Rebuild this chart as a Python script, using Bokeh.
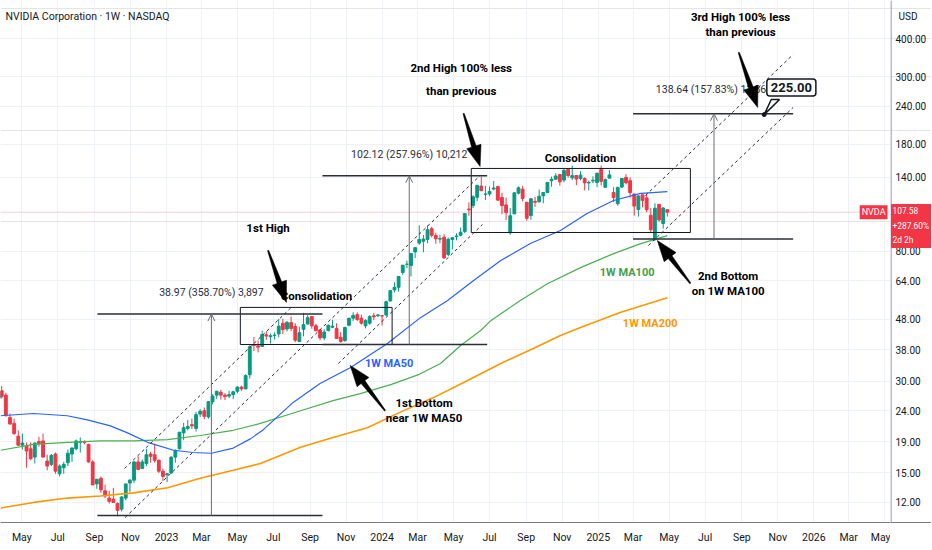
import numpy as np
import pandas as pd
from bokeh.plotting import figure
from bokeh.layouts import row
from bokeh.models import (Range1d, FixedTicker, Label, Arrow, OpenHead, ColumnDataSource, Grid)
from bokeh.embed import file_html
from bokeh.resources import INLINE
from bokeh.core.properties import value

FONT = "Roboto"

# ---------------- data ----------------
WEEK_START = "2022-03-21"
OPEN = [26.4, 27.9, 27.0, 22.8, 21.8, 19.8, 18.5, 18.4, 18.0, 16.9, 19.0, 19.1, 16.4, 16.0, 17.3, 14.9, 15.6, 16.2, 17.3, 18.0,
        18.9, 19.0, 18.6, 16.3, 13.8, 14.4, 13.1, 12.4, 12.3, 11.9, 11.4, 12.4, 13.9, 14.2, 16.3, 15.5, 16.1, 17.3, 17.2, 16.5,
        15.2, 14.8, 15.0, 16.9, 18.0, 20.3, 21.0, 21.6, 21.0, 23.4, 24.0, 22.9, 25.7, 27.0, 27.6, 27.0, 26.8, 27.1, 27.8, 28.7,
        28.3, 31.5, 39.5, 39.2, 39.0, 42.6, 42.0, 42.4, 42.9, 46.5, 44.5, 46.7, 45.4, 40.5, 44.4, 46.2, 48.9, 45.6, 44.2, 41.6,
        44.0, 45.1, 44.7, 41.8, 40.8, 45.8, 48.3, 49.6, 48.3, 45.6, 46.5, 49.2, 49.2, 49.2, 49.5, 55.0, 59.8, 61.0, 68.2, 72.6,
        71.9, 79.7, 85.2, 86.4, 87.6, 95.0, 90.3, 87.8, 89.1, 78.2, 87.6, 89.5, 90.4, 93.0, 110.2, 113.1, 120.4, 131.1, 123.2, 123.5,
        128.3, 130.6, 120.3, 113.7, 92.1, 106.3, 124.3, 128.1, 116.0, 104.9, 116.8, 116.5, 121.8, 124.9, 136.5, 138.1, 143.0, 137.2, 148.7, 139.5,
        142.0, 138.8, 138.9, 134.2, 136.3, 134.8, 148.6, 129.9, 139.2, 124.8, 114.8, 130.1, 140.0, 136.6, 123.5, 109.9, 122.7, 119.9, 105.1, 87.5,
        114.1, 98.8, 109.7]
HIGH = [28.1, 28.9, 27.5, 23.5, 22.6, 20.7, 20.2, 18.9, 18.9, 18.9, 19.7, 20.2, 17.2, 17.3, 17.5, 16.0, 16.3, 17.9, 18.2, 19.3,
        19.6, 19.2, 18.7, 16.5, 14.3, 14.6, 13.7, 13.1, 13.4, 12.0, 12.6, 13.8, 14.3, 16.4, 17.0, 16.6, 18.0, 17.6, 18.7, 16.6,
        15.5, 15.0, 17.0, 17.9, 20.4, 21.9, 22.4, 22.6, 23.8, 24.3, 24.6, 25.8, 27.2, 27.9, 28.1, 27.4, 27.9, 27.9, 28.9, 29.0,
        31.6, 39.5, 41.9, 40.8, 43.9, 43.8, 43.0, 43.4, 48.0, 48.1, 47.3, 48.9, 46.5, 45.3, 50.3, 49.4, 49.0, 46.3, 44.3, 44.4,
        46.0, 47.7, 46.5, 43.5, 45.3, 48.4, 50.5, 50.5, 49.6, 47.9, 49.4, 50.3, 49.9, 49.5, 55.1, 59.5, 63.4, 66.4, 72.1, 74.6,
        79.0, 82.3, 97.4, 90.6, 97.4, 96.3, 92.2, 90.7, 91.1, 88.8, 89.2, 91.7, 95.9, 106.6, 115.9, 122.3, 132.0, 140.8, 131.4, 130.7,
        136.2, 131.4, 124.7, 120.2, 111.0, 125.0, 130.8, 131.3, 116.2, 119.6, 120.8, 127.7, 125.0, 135.0, 140.9, 144.4, 143.1, 149.7, 149.8, 152.9,
        142.1, 146.5, 140.0, 136.7, 141.1, 144.9, 153.1, 138.8, 148.0, 130.0, 130.4, 139.3, 143.4, 140.0, 123.7, 122.2, 122.9, 124.1, 111.0, 115.1,
        114.7, 111.9, 110.2]
LOW = [25.6, 26.3, 23.0, 21.6, 20.0, 18.4, 17.9, 15.6, 16.5, 16.1, 18.3, 16.9, 15.3, 15.8, 14.9, 14.6, 14.9, 15.8, 16.3, 17.8,
       17.5, 18.6, 16.2, 13.7, 13.3, 12.9, 12.4, 11.9, 12.0, 10.8, 11.2, 12.2, 13.0, 13.9, 15.3, 15.5, 15.8, 16.2, 16.2, 15.0,
       14.1, 14.0, 14.9, 16.2, 17.9, 19.2, 20.7, 20.9, 20.5, 22.9, 22.5, 22.6, 25.2, 26.2, 26.1, 26.0, 26.4, 26.2, 27.4, 27.9,
       28.3, 30.6, 37.7, 37.3, 38.9, 41.0, 39.9, 41.1, 41.8, 42.8, 43.7, 43.8, 40.3, 40.3, 42.1, 46.2, 44.6, 43.9, 40.9, 40.9,
       43.7, 44.8, 41.4, 40.1, 40.4, 45.4, 47.3, 47.3, 46.0, 44.7, 46.0, 47.6, 48.7, 45.7, 49.1, 54.9, 58.7, 59.0, 67.0, 70.5,
       66.2, 76.1, 84.1, 79.5, 85.1, 89.0, 84.8, 85.1, 75.6, 77.3, 81.2, 87.0, 89.6, 91.8, 104.8, 111.1, 117.0, 126.1, 118.0, 121.4,
       127.0, 117.0, 106.0, 101.4, 90.7, 106.0, 123.1, 116.7, 100.9, 101.6, 112.0, 115.6, 115.1, 124.9, 130.4, 137.5, 131.5, 134.9, 139.8, 137.2,
       132.1, 137.0, 126.9, 126.9, 134.0, 130.1, 131.8, 129.5, 139.0, 116.3, 113.0, 129.2, 132.8, 120.1, 104.8, 104.1, 111.6, 107.6, 92.1, 86.6,
       100.1, 95.0, 104.1]
CLOSE = [27.7, 26.7, 23.1, 21.7, 20.2, 18.5, 18.8, 17.7, 16.7, 18.8, 18.7, 16.9, 15.8, 17.1, 15.2, 15.8, 16.0, 17.4, 18.1, 19.1,
         19.0, 18.9, 16.3, 13.7, 14.3, 13.2, 12.6, 12.1, 12.0, 11.3, 12.5, 13.8, 14.2, 16.3, 15.4, 16.3, 17.2, 17.0, 16.5, 15.2,
         14.6, 14.9, 16.9, 17.8, 20.4, 21.1, 21.3, 21.4, 23.3, 23.9, 23.0, 25.7, 26.8, 27.8, 27.0, 26.7, 27.1, 27.7, 28.7, 28.3,
         31.3, 38.9, 39.3, 38.8, 42.7, 42.2, 42.3, 42.5, 45.5, 44.3, 46.8, 44.7, 40.9, 43.3, 46.0, 48.5, 45.6, 43.9, 41.6, 43.5,
         45.8, 45.5, 41.4, 40.5, 45.0, 48.3, 49.3, 47.8, 46.5, 47.5, 48.9, 48.8, 49.5, 49.1, 54.7, 59.5, 61.0, 66.2, 72.1, 72.6,
         78.8, 82.3, 87.5, 87.8, 94.3, 90.4, 88.0, 88.2, 76.2, 87.7, 88.8, 89.9, 92.5, 106.5, 109.6, 120.9, 131.9, 126.6, 123.5, 125.8,
         129.2, 117.9, 113.1, 107.3, 104.8, 124.6, 129.4, 119.4, 102.8, 119.1, 116.0, 121.4, 124.9, 134.8, 138.0, 141.5, 135.4, 147.6, 141.98, 141.95,
         138.25, 142.4, 134.3, 134.7, 137.0, 144.5, 135.9, 137.7, 142.6, 120.1, 129.8, 138.85, 134.4, 124.9, 112.7, 121.7, 117.7, 109.7, 94.3, 110.9,
         101.5, 111.0, 107.58]

MA50_DATES = ["2022-03-26", "2022-05-21", "2022-07-17", "2022-08-20", "2022-09-28", "2022-10-27", "2022-11-30", "2023-01-13",
              "2023-02-15", "2023-03-18", "2023-04-24", "2023-05-23", "2023-06-14", "2023-08-04", "2023-09-18", "2023-11-08",
              "2024-01-10", "2024-03-06", "2024-04-21", "2024-06-04", "2024-07-20", "2024-09-08", "2024-10-29", "2024-12-13",
              "2025-01-27", "2025-03-14", "2025-04-28"]
MA50 = [23.1, 23.5, 23.1, 22.4, 21.4, 20.3, 18.9, 17.8, 17.5, 17.4, 18.1, 19.4, 20.8, 25.6, 29.5, 33.2,
        39.9, 48.5, 55.2, 64.2, 74.7, 84.9, 93.7, 106.6, 117.6, 124.0, 125.8]
MA100_DATES = ["2022-03-26", "2022-05-21", "2022-07-17", "2022-09-11", "2022-11-06", "2023-01-03", "2023-02-27", "2023-04-24",
               "2023-06-09", "2023-08-16", "2023-10-10", "2023-11-25", "2024-01-17", "2024-03-04", "2024-04-09", "2024-05-13",
               "2024-06-16", "2024-07-03", "2024-08-22", "2024-10-07", "2024-12-02", "2025-01-27", "2025-03-14", "2025-04-28"]
MA100 = [17.8, 18.6, 18.9, 19.1, 19.1, 19.3, 19.9, 20.7, 21.8, 24.0, 25.9, 27.3, 29.3, 31.6, 34.3, 39.3,
         44.0, 47.4, 55.2, 62.7, 70.8, 78.7, 84.9, 90.2]
MA200_DATES = ["2022-03-26", "2022-05-21", "2022-07-17", "2022-09-11", "2022-11-06", "2023-01-03", "2023-02-27", "2023-04-24",
               "2023-06-09", "2023-08-16", "2023-10-10", "2023-12-07", "2024-01-31", "2024-03-28", "2024-05-24", "2024-07-20",
               "2024-09-13", "2024-10-29", "2024-12-02", "2025-02-07", "2025-04-28"]
MA200 = [11.5, 12.0, 12.4, 12.6, 12.9, 13.4, 14.4, 15.3, 16.1, 18.2, 19.6, 21.1, 23.7, 26.5, 30.1, 34.3,
         38.4, 42.4, 45.0, 50.4, 56.4]

X_TICK_DATES = ["2022-05-01", "2022-07-01", "2022-09-01", "2022-11-01", "2023-01-01", "2023-03-01", "2023-05-01",
                "2023-07-01", "2023-09-01", "2023-11-01", "2024-01-01", "2024-03-01", "2024-05-01", "2024-07-01",
                "2024-09-01", "2024-11-01", "2025-01-01", "2025-03-01", "2025-05-01", "2025-07-01", "2025-09-01",
                "2025-11-01", "2026-01-01", "2026-03-01", "2026-05-01"]
X_TICK_LABELS = ["May", "Jul", "Sep", "Nov", "2023", "Mar", "May", "Jul", "Sep", "Nov", "2024", "Mar", "May", "Jul",
                 "Sep", "Nov", "2025", "Mar", "May", "Jul", "Sep", "Nov", "2026", "Mar", "May"]
Y_TICKS = [12, 15, 19, 24, 30, 38, 48, 64, 80, 140, 180, 240, 300, 400]
Y_TICK_LABELS = ["12.00", "15.00", "19.00", "24.00", "30.00", "38.00", "48.00", "64.00", "80.00",
                 "140.00", "180.00", "240.00", "300.00", "400.00"]

LAST_PRICE = 107.58
LAST_LINES = ["107.58", "+287.60%", "2d 2h"]
LAST_LINES_Y = [109.0, 97.3, 87.5]
LAST_BOX = (82.4, 114.1)
CURRENCY = "USD"
CURRENCY_Y = 472.5

# price-range measurements
MEAS_LOW = [10.864, 39.59, 87.84]
MEAS_HIGH = [49.834, 141.71, 226.48]
MEAS_LEFT = ["2022-09-06", "2023-09-22", "2025-03-01"]
MEAS_RIGHT = ["2023-09-22", "2024-06-27", "2025-11-27"]
MEAS_MID = ["2023-03-18", "2024-02-16", "2025-07-16"]
MEAS_TEXT = ["38.97 (358.70%) 3,897", "102.12 (257.96%) 10,212", "138.64 (157.83%) 13,864"]
MEAS_TEXT_Y = [58.7, 166.4, 272.2]

# consolidation boxes
BOX_LEFT = ["2023-05-06", "2024-05-31"]
BOX_RIGHT = ["2024-01-18", "2025-06-06"]
BOX_BOTTOM = [39.59, 92.3]
BOX_TOP = [52.4, 149.8]

# dashed channel lines
CH_X0 = ["2022-10-22", "2022-10-23", "2023-10-19", "2025-03-22", "2025-03-27"]
CH_Y0 = [15.51, 10.71, 34.3, 122.1, 83.7]
CH_X1 = ["2023-08-02", "2024-06-15", "2024-06-19", "2025-11-27", "2025-11-27"]
CH_Y1 = [52.8, 142.0, 98.1, 354.4, 237.5]

# thick arrows: tail -> tip
AR_TAIL_X = ["2023-06-22", "2024-05-18", "2025-08-27", "2025-06-06", "2024-01-06"]
AR_TAIL_Y = [80.6, 226.9, 359.8, 62.8, 24.0]
AR_TIP_X = ["2023-07-23", "2024-06-15", "2025-09-28", "2025-04-11", "2023-11-08"]
AR_TIP_Y = [54.4, 152.0, 237.5, 86.9, 33.8]

NOTE_TEXT = ["1st High", "Consolidation", "Consolidation", "2nd High 100% less", "than previous",
             "3rd High 100% less", "than previous", "2nd Bottom", "on 1W MA100", "1st Bottom", "near 1W MA50"]
NOTE_X = ["2023-06-22", "2023-09-12", "2024-12-02", "2024-05-14", "2024-05-14",
          "2025-08-30", "2025-08-30", "2025-08-09", "2025-08-09", "2024-03-12", "2024-03-12"]
NOTE_Y = [95.2, 57.3, 162.7, 318.9, 268.1, 468.9, 418.6, 66.2, 59.5, 25.35, 22.8]

MA_LABEL_TEXT = ["1W MA50", "1W MA100", "1W MA200"]
MA_LABEL_X = ["2024-01-13", "2025-02-19", "2025-03-30"]
MA_LABEL_Y = [34.3, 68.2, 46.4]

TARGET = 225.00
TARGET_DATE = "2025-10-09"
TARGET_LABEL_X = "2025-11-24"
TARGET_LABEL_Y = 276.3
TARGET_PTR_X = ["2025-10-21", "2025-11-04"]
TARGET_PTR_Y = 252.3

TITLE = "NVIDIA Corporation · 1W · NASDAQ"

# ---------------- helpers ----------------
def ms(s):
    return int(pd.Timestamp(s).value // 10**6)

X0, X1 = ms("2022-03-25 22:00"), ms("2026-05-10 21:00")
Y0, Y1 = 10.31, 533.1
FW, FH = 890, 522
BOTTOM = 27
AXW = 41
TXT = "#131722"
AXC = "#787b86"

def to_px(xm, yv):
    return ((xm - X0) / (X1 - X0) * FW,
            (np.log(yv) - np.log(Y0)) / (np.log(Y1) - np.log(Y0)) * FH)

def from_px(px, py):
    return (X0 + px / FW * (X1 - X0),
            float(np.exp(np.log(Y0) + py / FH * (np.log(Y1) - np.log(Y0)))))

def arrow_poly(tail, tip, hl=21.0, hw=7.5, sw=2.4, tw=0.6):
    tx, ty = to_px(*tail)
    px_, py_ = to_px(*tip)
    dx, dy = px_ - tx, py_ - ty
    L = np.hypot(dx, dy)
    ux, uy = dx / L, dy / L
    nx, ny = -uy, ux
    bx, by = px_ - ux * hl, py_ - uy * hl
    pts = [(tx + nx * tw, ty + ny * tw), (bx + nx * sw, by + ny * sw), (bx + nx * hw, by + ny * hw),
           (px_, py_), (bx - nx * hw, by - ny * hw), (bx - nx * sw, by - ny * sw), (tx - nx * tw, ty - ny * tw)]
    conv = [from_px(a, b) for a, b in pts]
    return [c[0] for c in conv], [c[1] for c in conv]

# ---------------- main figure ----------------
yr = Range1d(Y0, Y1)
p = figure(width=FW, height=FH + BOTTOM, x_axis_type="datetime", y_axis_type="log", y_axis_location=None,
           x_range=Range1d(X0, X1), y_range=yr, output_backend="svg", toolbar_location=None,
           min_border_left=0, min_border_top=0, min_border_right=0, min_border_bottom=BOTTOM)
p.outline_line_color = None
p.background_fill_color = "white"

xt = [ms(d) for d in X_TICK_DATES]
p.xaxis.ticker = FixedTicker(ticks=xt)
p.xgrid.ticker = FixedTicker(ticks=xt)
p.xaxis.major_label_overrides = {t: lab for t, lab in zip(xt, X_TICK_LABELS)}
p.xaxis.axis_line_color = AXC
p.xaxis.major_tick_line_color = None
p.xaxis.major_tick_out = 0
p.xaxis.major_tick_in = 0
p.xaxis.minor_tick_line_color = None
p.xaxis.major_label_text_font = FONT
p.xaxis.major_label_text_font_size = "10.5px"
p.xaxis.major_label_text_color = TXT
p.xaxis.major_label_standoff = 8
p.xgrid.grid_line_color = "#eef1f6"
p.add_layout(Grid(dimension=1, ticker=FixedTicker(ticks=Y_TICKS), grid_line_color="#eef1f6"))

# last price line
p.line([X0, X1], [LAST_PRICE, LAST_PRICE], line_color="#f23645", line_alpha=0.45, line_width=1, line_dash="1 1")

# candles
dates = pd.date_range(WEEK_START, periods=len(CLOSE), freq="W-MON")
o, h, l, c = map(np.array, (OPEN, HIGH, LOW, CLOSE))
col = np.where(c >= o, "#089981", "#f23645")
src = ColumnDataSource(dict(x=dates, o=o, h=h, l=l, c=c, top=np.maximum(o, c), bot=np.minimum(o, c), col=col))
p.segment("x", "h", "x", "l", source=src, line_color="col", line_width=1)
p.vbar(x="x", width=0.68 * 7 * 86400000, top="top", bottom="bot", source=src, fill_color="col", line_color="col")

# moving averages
p.line(pd.to_datetime(MA200_DATES), MA200, line_color="#ff9800", line_width=1.6)
p.line(pd.to_datetime(MA100_DATES), MA100, line_color="#4caf50", line_width=1.2)
p.line(pd.to_datetime(MA50_DATES), MA50, line_color="#2962ff", line_width=1.2)

# consolidation boxes
p.quad(left=pd.to_datetime(BOX_LEFT), right=pd.to_datetime(BOX_RIGHT), bottom=BOX_BOTTOM, top=BOX_TOP,
       fill_color=None, line_color=TXT, line_width=1)

# measurement tools
for lo, hi, a, b, m, t, ty in zip(MEAS_LOW, MEAS_HIGH, MEAS_LEFT, MEAS_RIGHT, MEAS_MID, MEAS_TEXT, MEAS_TEXT_Y):
    xa, xb, xm = pd.Timestamp(a), pd.Timestamp(b), pd.Timestamp(m)
    p.line([xa, xb], [lo, lo], line_color="#2a2e39", line_width=1.5)
    p.line([xa, xb], [hi, hi], line_color="#2a2e39", line_width=1.5)
    p.add_layout(Arrow(end=OpenHead(size=7, line_color="#6a6d78", line_width=1),
                       x_start=ms(m), y_start=lo, x_end=ms(m), y_end=hi,
                       line_color="#6a6d78", line_width=1))
    p.text(x=[xm], y=[ty], text=[t], text_font=value(FONT), text_font_size="10.5px",
           text_align="center", text_baseline="middle", text_color="#2a2e39")

# dashed channels
p.segment(pd.to_datetime(CH_X0), CH_Y0, pd.to_datetime(CH_X1), CH_Y1,
          line_color="#2a2e39", line_width=1, line_dash="3 3")

# notes
p.text(x=pd.to_datetime(NOTE_X), y=NOTE_Y, text=NOTE_TEXT, text_font=value(FONT), text_font_size="11.5px",
       text_align="center", text_baseline="middle", text_color="#000000", text_font_style="bold")
ma_cols = ["#2962ff", "#43a047", "#ff9800"]
p.text(x=pd.to_datetime(MA_LABEL_X), y=MA_LABEL_Y, text=MA_LABEL_TEXT, text_font=value(FONT),
       text_font_size="11px", text_align="center", text_baseline="middle", text_color=ma_cols,
       text_font_style="bold")

# thick arrows
axs, ays = [], []
for tx, ty, px_, py_ in zip(AR_TAIL_X, AR_TAIL_Y, AR_TIP_X, AR_TIP_Y):
    xs, ys = arrow_poly((ms(tx), ty), (ms(px_), py_))
    axs.append(xs)
    ays.append(ys)
p.patches(axs, ays, fill_color="#000000", line_color="#000000", line_width=0.5)

# target callout
p.patch([ms(TARGET_PTR_X[0]), ms(TARGET_PTR_X[1]), ms(TARGET_DATE)], [TARGET_PTR_Y, TARGET_PTR_Y, TARGET],
        fill_color="white", line_color=TXT, line_width=1.5)
p.scatter([pd.Timestamp(TARGET_DATE)], [TARGET], size=4, color=TXT)
p.add_layout(Label(x=ms(TARGET_LABEL_X), y=TARGET_LABEL_Y, text=f"{TARGET:.2f}", text_font=FONT,
                   text_font_size="13px", text_font_style="bold", text_align="center", text_baseline="middle",
                   text_color=TXT, background_fill_color="white", border_line_color=TXT,
                   border_line_width=1.5, padding=4, border_radius=3))

# header
p.add_layout(Label(x=5, y=FH - 16, x_units="screen", y_units="screen", text=TITLE,
                   text_font=FONT, text_font_size="10.5px", text_baseline="middle", text_color=TXT))

# NVDA tag
p.add_layout(Label(x=FW - 3, y=LAST_PRICE, x_units="screen", text="NVDA", text_font=FONT, text_font_size="9px",
                   text_align="right", text_baseline="middle", text_color="white",
                   background_fill_color="#f23645", padding=2))

# ---------------- price scale panel ----------------
q = figure(width=AXW, height=FH + BOTTOM, y_axis_type="log", y_axis_location=None,
           x_range=Range1d(0, AXW), y_range=yr, output_backend="svg", toolbar_location=None,
           min_border_left=0, min_border_top=0, min_border_right=0, min_border_bottom=BOTTOM)
q.outline_line_color = None
q.xgrid.visible = False
q.xaxis.ticker = FixedTicker(ticks=[])
q.xaxis.axis_line_color = AXC
q.xaxis.major_tick_line_color = None
q.xaxis.minor_tick_line_color = None
q.xaxis.major_tick_out = 0
q.xaxis.major_label_text_font_size = "0px"
q.line([0.5, 0.5], [Y0, Y1], line_color=AXC, line_width=1)
q.text(x=[5] * len(Y_TICKS), y=Y_TICKS, text=Y_TICK_LABELS, text_font=value(FONT), text_font_size="10px",
       text_align="left", text_baseline="middle", text_color=TXT)
q.text(x=[8], y=[CURRENCY_Y], text=[CURRENCY], text_font=value(FONT), text_font_size="10px",
       text_align="left", text_baseline="middle", text_color=TXT)
q.quad(left=[1], right=[AXW], bottom=[LAST_BOX[0]], top=[LAST_BOX[1]], fill_color="#f23645", line_color="#f23645")
q.text(x=[2] * 3, y=LAST_LINES_Y, text=LAST_LINES, text_font=value(FONT), text_font_size="8.4px",
       text_align="left", text_baseline="middle", text_color="white")

layout = row(p, q, spacing=0)
open("out.html", "w").write(file_html(layout, INLINE))
